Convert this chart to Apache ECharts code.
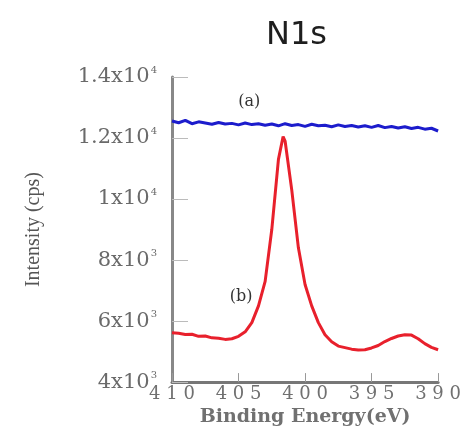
<!DOCTYPE html>
<html>
<head>
<meta charset="utf-8">
<script src="https://cdn.jsdelivr.net/npm/echarts@6/dist/echarts.min.js"></script>
<style>
  html, body { margin: 0; padding: 0; background: #fff; }
  #chart { width: 464px; height: 432px; }
</style>
</head>
<body>
<div id="chart"></div>
<script>
// binding energies (eV)
const energyRed = [410, 409.5, 409, 408.5, 408, 407.5, 407, 406.5, 406, 405.5,
  405, 404.5, 404, 403.5, 403, 402.5, 402, 401.65, 401.5, 401, 400.5,
  400, 399.5, 399, 398.5, 398, 397.5, 397, 396.5, 396, 395.5,
  395, 394.5, 394, 393.5, 393, 392.5, 392, 391.5, 391, 390.5, 390];
// (b) N1s spectrum
const redValues = [5620, 5600, 5560, 5570, 5500, 5510, 5450, 5440, 5400, 5420,
  5500, 5650, 5950, 6500, 7300, 9000, 11300, 12050, 11900, 10300, 8400,
  7200, 6500, 5950, 5550, 5320, 5180, 5130, 5080, 5050, 5060,
  5120, 5200, 5330, 5430, 5510, 5550, 5540, 5420, 5260, 5140, 5060];

const energyBlue = [410, 409.5, 409, 408.5, 408, 407.5, 407, 406.5, 406, 405.5,
  405, 404.5, 404, 403.5, 403, 402.5, 402, 401.5, 401, 400.5,
  400, 399.5, 399, 398.5, 398, 397.5, 397, 396.5, 396, 395.5,
  395, 394.5, 394, 393.5, 393, 392.5, 392, 391.5, 391, 390.5, 390];
// (a) flat spectrum
const blueValues = [12560, 12500, 12580, 12470, 12530, 12490, 12450, 12510, 12460, 12480,
  12430, 12490, 12440, 12470, 12420, 12460, 12400, 12470, 12410, 12440,
  12380, 12450, 12400, 12420, 12370, 12430, 12380, 12410, 12360, 12400,
  12350, 12410, 12340, 12380, 12330, 12370, 12310, 12350, 12290, 12320, 12230];

// tick labels
const yTicks = [4000, 6000, 8000, 10000, 12000, 14000];
const yMantissa = ['4', '6', '8', '1', '1.2', '1.4'];
const yExponent = ['3', '3', '3', '4', '4', '4'];
const xTicks = [390, 395, 400, 405, 410];

const chart = echarts.init(document.getElementById('chart'));

const pairs = (xs, ys) => xs.map((x, i) => [x, ys[i]]);

chart.setOption({
  animation: false,
  title: {
    text: 'N1s',
    left: 261,
    top: 15,
    textStyle: { fontFamily: 'DejaVu Sans', fontSize: 32, fontWeight: 'normal', color: '#1e1e1e' },
  },
  grid: { left: 172, right: 19, top: 77, bottom: 42 },
  xAxis: {
    type: 'value',
    min: 390,
    max: 410,
    interval: 5,
    inverse: true,
    name: 'Binding Energy(eV)',
    nameLocation: 'middle',
    nameGap: 24,
    nameTextStyle: { fontFamily: 'DejaVu Serif', fontWeight: 'bold', fontSize: 19, color: '#707070' },
    axisLine: { lineStyle: { color: '#777', width: 3 } },
    axisTick: { inside: true, length: 9, lineStyle: { color: '#999', width: 1 } },
    axisLabel: {
      margin: 3,
      fontFamily: 'DejaVu Serif',
      fontSize: 18,
      color: '#707070',
      formatter: (v) => (xTicks.includes(v) ? String(v).split('').join(' ') : ''),
    },
    splitLine: { show: false },
  },
  yAxis: {
    type: 'value',
    min: 4000,
    max: 14000,
    interval: 2000,
    name: 'Intensity (cps)',
    nameLocation: 'middle',
    nameGap: 128,
    nameTextStyle: { fontFamily: 'Liberation Serif', fontSize: 20, color: '#555' },
    axisLine: { lineStyle: { color: '#888', width: 3 } },
    axisTick: { inside: true, length: 16, lineStyle: { color: '#bbb', width: 1 } },
    axisLabel: {
      margin: 15,
      formatter: (v) => {
        const i = yTicks.indexOf(v);
        return i < 0 ? '' : '{m|' + yMantissa[i] + 'x10}{s|' + yExponent[i] + '}';
      },
      rich: {
        m: { fontFamily: 'DejaVu Serif', fontSize: 21, color: '#6a6a6a', lineHeight: 24 },
        s: { fontFamily: 'DejaVu Serif', fontSize: 10, color: '#6a6a6a', verticalAlign: 'top', lineHeight: 24, padding: [0, 0, 10, 1] },
      },
    },
    splitLine: { show: false },
  },
  series: [
    {
      name: '(a)',
      type: 'line',
      data: pairs(energyBlue, blueValues),
      showSymbol: false,
      lineStyle: { color: '#1c1ccc', width: 3 },
      markPoint: {
        symbol: 'circle',
        symbolSize: 1,
        itemStyle: { color: 'transparent' },
        label: { show: true, position: 'inside', fontFamily: 'DejaVu Serif', fontSize: 16, color: '#333', formatter: '(a)' },
        data: [{ coord: [404.2, 13180] }],
      },
    },
    {
      name: '(b)',
      type: 'line',
      data: pairs(energyRed, redValues),
      showSymbol: false,
      lineStyle: { color: '#e8202c', width: 3 },
      markPoint: {
        symbol: 'circle',
        symbolSize: 1,
        itemStyle: { color: 'transparent' },
        label: { show: true, position: 'inside', fontFamily: 'DejaVu Serif', fontSize: 16, color: '#333', formatter: '(b)' },
        data: [{ coord: [404.8, 6800] }],
      },
    },
  ],
});
</script>
</body>
</html>
